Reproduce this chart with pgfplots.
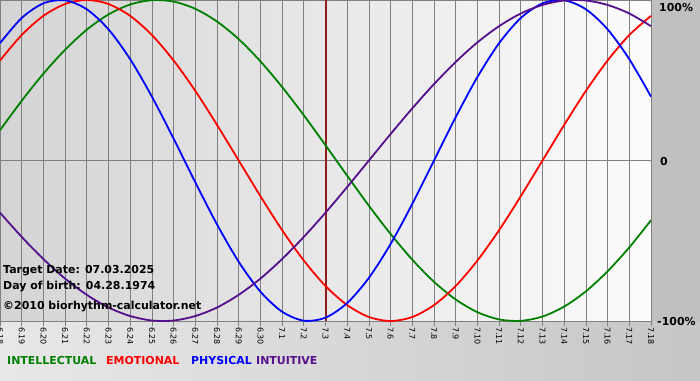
\documentclass[border=0pt]{standalone}
\usepackage{fontspec}
\setmainfont{DejaVu Sans}
\usepackage{pgfplots}
\pgfplotsset{compat=1.18}
\definecolor{cint}{RGB}{0,128,0}
\definecolor{cemo}{RGB}{255,0,0}
\definecolor{cphy}{RGB}{0,0,255}
\definecolor{cintu}{RGB}{85,15,140}
\definecolor{gridg}{RGB}{128,128,128}
\definecolor{bgleft}{RGB}{212,212,212}
\definecolor{bgright}{RGB}{252,252,252}
\definecolor{margin}{RGB}{192,192,192}
\definecolor{botleft}{RGB}{232,232,232}
\definecolor{botright}{RGB}{198,198,198}
\definecolor{target}{RGB}{140,30,30}
\begin{document}
\begin{tikzpicture}[x=1bp,y=1bp]
\useasboundingbox (0,0) rectangle (700,380);
\shade[left color=botleft, right color=botright] (0,0) rectangle (700,59);
\fill[margin] (651,59) rectangle (700,380);
\shade[left color=bgleft, right color=bgright] (0,59) rectangle (651,380);
\begin{axis}[
  at={(0bp,59bp)}, anchor=south west,
  width=651bp, height=321bp, scale only axis,
  xmin=0, xmax=30, ymin=-100, ymax=100,
  axis line style={gridg, line width=0.8bp},
  xtick={0,...,30},
  xticklabels={6.18,6.19,6.20,6.21,6.22,6.23,6.24,6.25,6.26,6.27,6.28,6.29,6.30,7.1,7.2,7.3,7.4,7.5,7.6,7.7,7.8,7.9,7.10,7.11,7.12,7.13,7.14,7.15,7.16,7.17,7.18},
  xtick pos=lower, tick align=outside, major tick length=5bp,
  xtick style={gridg, line width=0.8bp},
  xticklabel style={rotate=-90, anchor=west, font=\fontsize{8}{9}\selectfont, text=black, inner sep=1bp},
  ytick={0}, yticklabels={}, ytick style={draw=none},
  xmajorgrids, ymajorgrids,
  grid style={gridg, line width=0.8bp},
  clip=false,
]
\addplot[target, line width=2bp] coordinates {(15,-100) (15,100)};
% Intellectual (33 days)
\addplot[cint, line width=1.8bp, smooth] coordinates {
(0,18.9)(1,37.2)(2,54.1)(3,69.0)(4,81.5)(5,91.0)(6,97.2)(7,99.9)(8,99.0)(9,94.5)(10,86.6)(11,75.6)(12,61.8)(13,45.8)(14,28.2)(15,9.5)(16,-9.5)(17,-28.2)(18,-45.8)(19,-61.8)(20,-75.6)(21,-86.6)(22,-94.5)(23,-99.0)(24,-99.9)(25,-97.2)(26,-91.0)(27,-81.5)(28,-69.0)(29,-54.1)(30,-37.2)};
% Emotional (28 days)
\addplot[cemo, line width=1.8bp, smooth] coordinates {
(0,62.3)(1,78.2)(2,90.1)(3,97.5)(4,100)(5,97.5)(6,90.1)(7,78.2)(8,62.3)(9,43.4)(10,22.2)(11,0)(12,-22.2)(13,-43.4)(14,-62.3)(15,-78.2)(16,-90.1)(17,-97.5)(18,-100)(19,-97.5)(20,-90.1)(21,-78.2)(22,-62.3)(23,-43.4)(24,-22.2)(25,0)(26,22.2)(27,43.4)(28,62.3)(29,78.2)(30,90.1)};
% Physical (23 days)
\addplot[cphy, line width=1.8bp, smooth] coordinates {
(0,73.1)(1,88.8)(2,97.9)(3,99.8)(4,94.2)(5,81.7)(6,63.1)(7,39.8)(8,13.6)(9,-13.6)(10,-39.8)(11,-63.1)(12,-81.7)(13,-94.2)(14,-99.8)(15,-97.9)(16,-88.8)(17,-73.1)(18,-52.0)(19,-27.0)(20,0)(21,27.0)(22,52.0)(23,73.1)(24,88.8)(25,97.9)(26,99.8)(27,94.2)(28,81.7)(29,63.1)(30,39.8)};
% Intuitive (38 days)
\addplot[cintu, line width=1.8bp, smooth] coordinates {
(0,-32.5)(1,-47.6)(2,-61.4)(3,-73.6)(4,-83.7)(5,-91.6)(6,-96.9)(7,-99.7)(8,-99.7)(9,-96.9)(10,-91.6)(11,-83.7)(12,-73.6)(13,-61.4)(14,-47.6)(15,-32.5)(16,-16.5)(17,0)(18,16.5)(19,32.5)(20,47.6)(21,61.4)(22,73.6)(23,83.7)(24,91.6)(25,96.9)(26,99.7)(27,99.7)(28,96.9)(29,91.6)(30,83.7)};
\end{axis}
\begin{scope}[every node/.style={inner sep=0pt, anchor=west, font=\bfseries\fontsize{11}{13}\selectfont}]
\node at (3,109) {Target Date: 07.03.2025};
\node at (3,93) {Day of birth: 04.28.1974};
\node at (3,73) {©2010 biorhythm-calculator.net};
\end{scope}
\begin{scope}[every node/.style={inner sep=0pt, anchor=west, font=\bfseries\fontsize{11}{13}\selectfont}]
\node at (659,372.5) {100\%};
\node at (660,218) {0};
\node at (657,58) {-100\%};
\node[text=cint] at (7,19) {INTELLECTUAL};
\node[text=cemo] at (106,19) {EMOTIONAL};
\node[text=cphy] at (191,19) {PHYSICAL};
\node[text=cintu] at (256,19) {INTUITIVE};
\end{scope}
\end{tikzpicture}
\end{document}
